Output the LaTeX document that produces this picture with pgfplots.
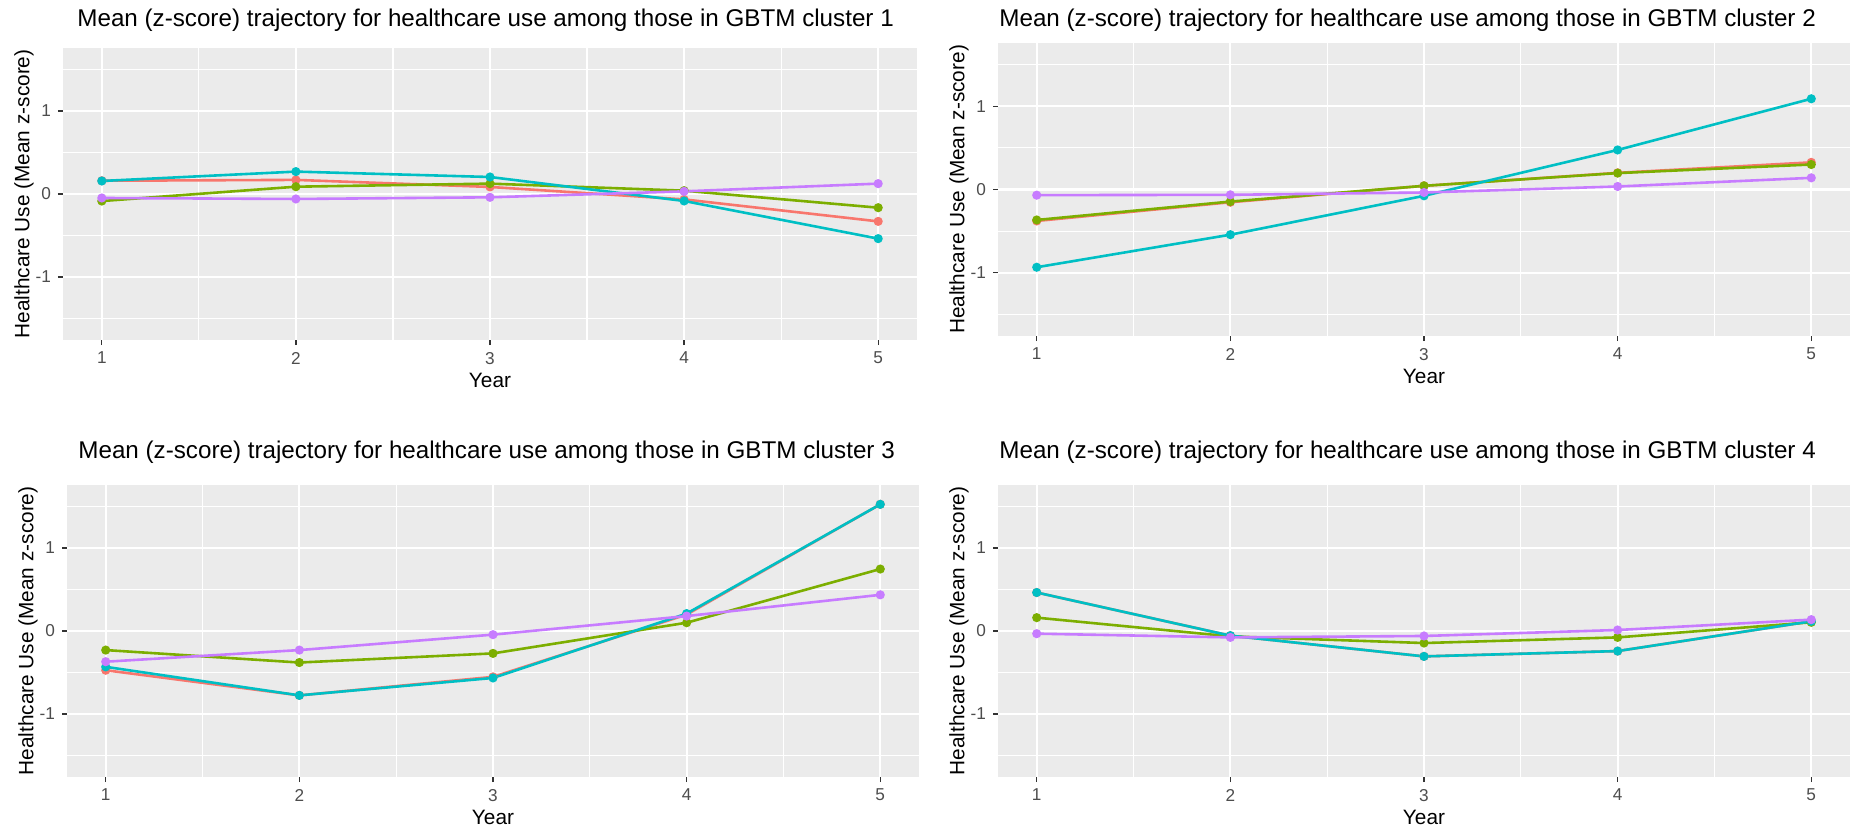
\documentclass[border=0pt]{standalone}
\usepackage{pgfplots}
\pgfplotsset{compat=1.18}
\usepackage{pgfplotstable}
\usepackage{fontspec}
\setmainfont{Liberation Sans}
\definecolor{ggbg}{RGB}{235,235,235}
\definecolor{ggtick}{RGB}{51,51,51}
\definecolor{ggtxt}{RGB}{77,77,77}
\definecolor{ggred}{HTML}{F8766D}
\definecolor{gggreen}{HTML}{7CAE00}
\definecolor{ggcyan}{HTML}{00BFC4}
\definecolor{ggpurple}{HTML}{C77CFF}

\pgfplotstableread{
x r g c p
1 0.160 -0.085 0.157 -0.048
2 0.170 0.088 0.270 -0.060
3 0.085 0.125 0.205 -0.040
4 -0.065 0.040 -0.084 0.032
5 -0.330 -0.165 -0.538 0.125
}\tA
\pgfplotstableread{
x r g c p
1 -0.378 -0.366 -0.934 -0.068
2 -0.153 -0.145 -0.543 -0.064
3 0.044 0.044 -0.076 -0.036
4 0.200 0.197 0.475 0.036
5 0.326 0.300 1.090 0.140
}\tB
\pgfplotstableread{
x r g c p
1 -0.473 -0.230 -0.432 -0.370
2 -0.776 -0.380 -0.776 -0.230
3 -0.553 -0.270 -0.566 -0.044
4 0.198 0.100 0.210 0.180
5 1.527 0.747 1.527 0.436
}\tC
\pgfplotstableread{
x r g c p
1 0.464 0.161 0.464 -0.032
2 -0.056 -0.065 -0.056 -0.077
3 -0.306 -0.145 -0.306 -0.060
4 -0.242 -0.077 -0.242 0.012
5 0.117 0.105 0.117 0.137
}\tD

\pgfplotsset{
  gg/.style={
    scale only axis, width=426pt, height=146pt,
    xmin=0.8, xmax=5.2, ymin=-1.76, ymax=1.76,
    xtick={1,2,3,4,5}, xticklabels={1,2,3,4,5},
    ytick={-1,0,1}, yticklabels={-1,0,1},
    minor xtick={1.5,2.5,3.5,4.5}, minor ytick={-1.5,-0.5,0.5,1.5},
    grid=both,
    major grid style={white, line width=1.1pt},
    minor grid style={white, line width=0.55pt},
    axis background/.style={fill=ggbg},
    axis x line*=bottom, axis y line*=left,
    axis line style={draw=none},
    tick align=outside, major tick length=2.5pt, minor tick length=0pt,
    major tick style={draw=ggtick, line width=0.6pt},
    tick label style={font=\fontsize{8.6}{10}\selectfont, text=ggtxt},
    xlabel=Year, ylabel={Healthcare Use (Mean z-score)},
    label style={font=\fontsize{10.4}{12}\selectfont},
    xlabel style={at={(axis description cs:0.5,0)}, anchor=center, yshift=-20pt},
    ylabel style={at={(axis description cs:-0.0458,0.5)}, anchor=center},
    title style={font=\fontsize{12.1}{14}\selectfont, anchor=west, at={(axis description cs:0,1)}, inner sep=0pt},
    every axis plot/.append style={line width=1.3pt, mark=*, mark size=1.6pt},
  },
}

\begin{document}
\begin{tikzpicture}
\useasboundingbox (0,0) rectangle (927pt,416pt);
% panel 1
\begin{axis}[gg, at={(31.5pt,246pt)}, anchor=south west, width=427pt,
  title={Mean (z-score) trajectory for healthcare use among those in GBTM cluster 1},
  title style={xshift=7pt, yshift=7.75pt}]
\addplot[ggred, mark options={fill=ggred}] table[x=x,y=r]{\tA};
\addplot[gggreen, mark options={fill=gggreen}] table[x=x,y=g]{\tA};
\addplot[ggcyan, mark options={fill=ggcyan}] table[x=x,y=c]{\tA};
\addplot[ggpurple, mark options={fill=ggpurple}] table[x=x,y=p]{\tA};
\end{axis}
% panel 2
\begin{axis}[gg, at={(499pt,248pt)}, anchor=south west, width=426pt, height=146.5pt,
  title={Mean (z-score) trajectory for healthcare use among those in GBTM cluster 2},
  title style={xshift=0.5pt, yshift=5.25pt}]
\addplot[ggred, mark options={fill=ggred}] table[x=x,y=r]{\tB};
\addplot[gggreen, mark options={fill=gggreen}] table[x=x,y=g]{\tB};
\addplot[ggcyan, mark options={fill=ggcyan}] table[x=x,y=c]{\tB};
\addplot[ggpurple, mark options={fill=ggpurple}] table[x=x,y=p]{\tB};
\end{axis}
% panel 3
\begin{axis}[gg, at={(33.5pt,27.5pt)}, anchor=south west, width=426pt, height=146pt,
  title={Mean (z-score) trajectory for healthcare use among those in GBTM cluster 3},
  title style={xshift=5.5pt, yshift=10.5pt}]
\addplot[ggred, mark options={fill=ggred}] table[x=x,y=r]{\tC};
\addplot[gggreen, mark options={fill=gggreen}] table[x=x,y=g]{\tC};
\addplot[ggcyan, mark options={fill=ggcyan}] table[x=x,y=c]{\tC};
\addplot[ggpurple, mark options={fill=ggpurple}] table[x=x,y=p]{\tC};
\end{axis}
% panel 4
\begin{axis}[gg, at={(499pt,27.5pt)}, anchor=south west, width=426pt, height=146pt,
  title={Mean (z-score) trajectory for healthcare use among those in GBTM cluster 4},
  title style={xshift=0.5pt, yshift=10.5pt}]
\addplot[ggred, mark options={fill=ggred}] table[x=x,y=r]{\tD};
\addplot[gggreen, mark options={fill=gggreen}] table[x=x,y=g]{\tD};
\addplot[ggcyan, mark options={fill=ggcyan}] table[x=x,y=c]{\tD};
\addplot[ggpurple, mark options={fill=ggpurple}] table[x=x,y=p]{\tD};
\end{axis}
\end{tikzpicture}
\end{document}
